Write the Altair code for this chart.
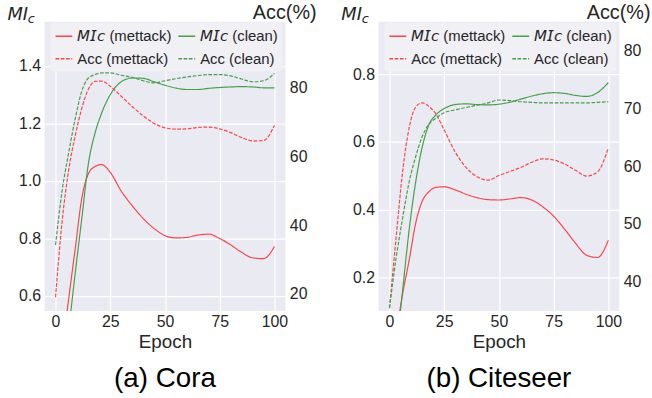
import altair as alt
import pandas as pd

epochs = [0, 3, 6, 9, 12, 15, 18, 21, 25, 30, 35, 40, 45, 50, 55, 60, 65, 70, 75, 80, 85, 90, 95, 100]

# Cora
cora_mi_mettack = [0.24, 0.41, 0.59, 0.765, 0.94, 1.025, 1.05, 1.057, 1.03, 0.965, 0.914, 0.87, 0.835, 0.81,
                   0.802, 0.804, 0.812, 0.815, 0.80, 0.778, 0.752, 0.733, 0.73, 0.772]
cora_mi_clean = [0.09, 0.28, 0.48, 0.68, 0.87, 1.06, 1.165, 1.235, 1.30, 1.345, 1.358, 1.357, 1.345, 1.333,
                 1.323, 1.318, 1.318, 1.322, 1.325, 1.327, 1.328, 1.327, 1.324, 1.324]
cora_acc_mettack = [19.0, 41.0, 56.0, 66.0, 74.0, 79.5, 81.8, 81.9, 80.4, 77.5, 74.5, 71.8, 69.6, 68.3,
                    67.9, 68.0, 68.4, 68.5, 68.0, 66.9, 65.5, 64.5, 64.6, 69.0]
cora_acc_clean = [34.2, 50.0, 61.0, 71.0, 79.0, 82.8, 83.8, 84.3, 84.3, 83.6, 83.0, 82.0, 81.4, 82.0,
                  82.6, 83.1, 83.5, 83.8, 83.8, 83.4, 82.5, 81.7, 82.0, 84.1]

# Citeseer
cite_mi_mettack = [-0.08, 0.03, 0.15, 0.25, 0.36, 0.425, 0.452, 0.465, 0.467, 0.458, 0.445, 0.435, 0.429, 0.428,
                   0.431, 0.435, 0.428, 0.408, 0.38, 0.342, 0.30, 0.265, 0.258, 0.309]
cite_mi_clean = [-0.2, -0.02, 0.16, 0.34, 0.482, 0.585, 0.65, 0.678, 0.698, 0.71, 0.712, 0.71, 0.709, 0.711,
                 0.717, 0.726, 0.735, 0.742, 0.745, 0.743, 0.737, 0.734, 0.745, 0.775]
cite_acc_mettack = [35.4, 47.5, 59.0, 66.7, 70.3, 71.0, 70.4, 69.2, 66.3, 62.5, 59.8, 58.2, 57.6, 58.4,
                    59.1, 59.8, 60.7, 61.3, 61.1, 60.4, 59.3, 58.3, 59.0, 63.2]
cite_acc_clean = [35.4, 44.0, 51.0, 57.3, 61.7, 65.2, 67.3, 68.3, 69.3, 69.8, 70.2, 70.6, 71.0, 71.5,
                  71.4, 71.2, 71.1, 71.0, 71.0, 71.0, 71.0, 71.0, 71.1, 71.2]

MI_M = "\U0001D614\U0001D610\U0001D624 (mettack)"
MI_C = "\U0001D614\U0001D610\U0001D624 (clean)"
ACC_M = "Acc (mettack)"
ACC_C = "Acc (clean)"
# legend order (filled column by column)
series_labels = [MI_M, ACC_M, MI_C, ACC_C]
x_ticks = [0, 25, 50, 75, 100]

RED = "#F94649"
GREEN = "#46A049"
TXT = "#262626"
FONT = "Liberation Sans"


def long_df(a, b, la, lb):
    return pd.DataFrame({
        "epoch": epochs + epochs,
        "value": a + b,
        "series": [la] * len(epochs) + [lb] * len(epochs),
    })


def panel(mi_m, mi_c, acc_m, acc_c, mi_dom, acc_dom, mi_ticks, acc_ticks, caption):
    legend = alt.Legend(
        title=None, orient="none", legendX=6, legendY=1, columns=2,
        symbolType="stroke", symbolSize=289, symbolStrokeWidth=1.5,
        labelFont=FONT, labelFontSize=15, labelColor=TXT, labelOffset=4,
        columnPadding=4, rowPadding=5, padding=4,
        fillColor="#F0F0F5", cornerRadius=3,
    )
    color = alt.Color("series:N", scale=alt.Scale(domain=series_labels, range=[RED, RED, GREEN, GREEN]),
                      legend=legend)
    dash = alt.StrokeDash("series:N", scale=alt.Scale(domain=series_labels,
                                                      range=[[1, 0], [3.7, 1.6], [1, 0], [3.7, 1.6]]),
                          legend=legend)
    x = alt.X("epoch:Q", scale=alt.Scale(domain=[-5, 105], nice=False, zero=False),
              axis=alt.Axis(values=x_ticks, title="Epoch", titlePadding=3, labelPadding=3))

    mi = alt.Chart(long_df(mi_m, mi_c, MI_M, MI_C)).mark_line(
        clip=True, strokeWidth=1.2, interpolate="monotone"
    ).encode(
        x=x,
        y=alt.Y("value:Q", scale=alt.Scale(domain=mi_dom, nice=False, zero=False),
                axis=alt.Axis(values=mi_ticks, format=".1f", orient="left", title="MI",
                              titleAngle=0, titleX=-38, titleY=-2, titleAlign="left",
                              titleBaseline="alphabetic", titleFont="DejaVu Sans",
                              titleFontStyle="italic", titleFontSize=18)),
        color=color, strokeDash=dash,
    )
    acc = alt.Chart(long_df(acc_m, acc_c, ACC_M, ACC_C)).mark_line(
        clip=True, strokeWidth=1.2, interpolate="monotone"
    ).encode(
        x=x,
        y=alt.Y("value:Q", scale=alt.Scale(domain=acc_dom, nice=False, zero=False),
                axis=alt.Axis(values=acc_ticks, format="d", orient="right", title="Acc(%)",
                              titleAngle=0, titleX=31, titleY=-3, titleAlign="right",
                              titleBaseline="alphabetic", titleFontSize=20)),
        color=color, strokeDash=dash,
    )
    sub = alt.Chart(pd.DataFrame({"t": ["c"]})).mark_text(
        font="DejaVu Sans", fontStyle="italic", fontSize=13, align="left",
        baseline="alphabetic", color=TXT
    ).encode(x=alt.value(-17), y=alt.value(1), text="t:N")

    return alt.layer(mi, acc, sub).resolve_scale(y="independent").properties(
        width=243, height=292,
        title=alt.TitleParams(caption, orient="bottom", fontSize=28, font=FONT, fontWeight="normal",
                              color="black", offset=14, anchor="middle", frame="group"),
    )


pa = panel(cora_mi_mettack, cora_mi_clean, cora_acc_mettack, cora_acc_clean,
           [0.548, 1.554], [15.0, 99.2], [0.6, 0.8, 1.0, 1.2, 1.4], [20, 40, 60, 80], "(a) Cora")
pb = panel(cite_mi_mettack, cite_mi_clean, cite_acc_mettack, cite_acc_clean,
           [0.10, 0.955], [34.9, 85.1], [0.2, 0.4, 0.6, 0.8], [40, 50, 60, 70, 80], "(b) Citeseer")

chart = alt.hconcat(pa, pb, spacing=25).resolve_scale(
    color="independent", strokeDash="independent"
).configure_view(
    fill="#EAEAF2", stroke=None
).configure_axis(
    grid=True, gridColor="white", gridWidth=1.2, domain=False, ticks=False,
    labelFont=FONT, labelFontSize=16, labelColor=TXT, labelPadding=4,
    titleFont=FONT, titleFontSize=19, titleFontWeight="normal", titleColor=TXT,
).properties(
    padding={"left": 7, "top": 1, "right": 2, "bottom": 5},
    background="white",
)

chart.save("out.html", embed_options={"renderer": "svg", "actions": False})
